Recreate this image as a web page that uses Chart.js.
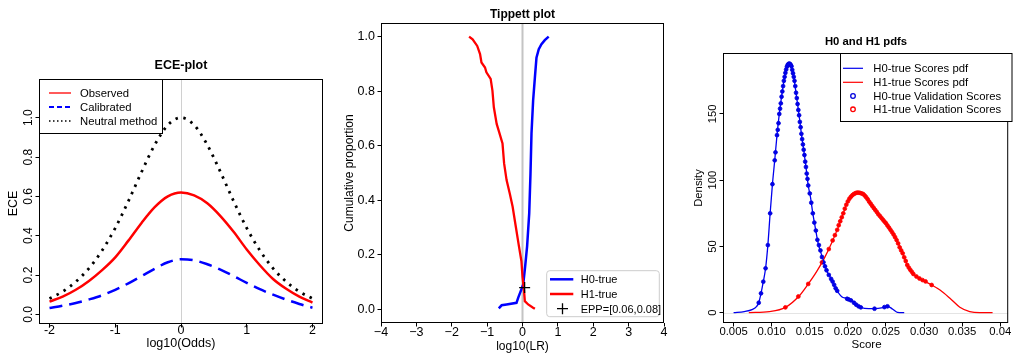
<!DOCTYPE html>
<html><head><meta charset="utf-8">
<script src="https://cdn.jsdelivr.net/npm/chart.js@4/dist/chart.umd.min.js"></script>
<style>
html,body{margin:0;padding:0;background:#fff;width:1013px;height:355px;overflow:hidden;}
.p{position:absolute;top:0;height:355px;}
canvas{display:block;}
</style></head><body>
<div class="p" style="left:0;width:340px"><canvas id="c1" width="340" height="355"></canvas></div>
<div class="p" style="left:340px;width:340px"><canvas id="c2" width="340" height="355"></canvas></div>
<div class="p" style="left:680px;width:333px"><canvas id="c3" width="333" height="355"></canvas></div>
<script>
// ---------- Panel 1: ECE plot ----------
const eceX = [-2,-1.8,-1.6,-1.4,-1.2,-1,-0.8,-0.6,-0.4,-0.2,0,0.2,0.4,0.6,0.8,1,1.2,1.4,1.6,1.8,2];
const eceObserved = [0.065,0.09,0.125,0.17,0.225,0.29,0.375,0.465,0.545,0.6,0.62,0.605,0.565,0.5,0.42,0.33,0.25,0.18,0.13,0.09,0.06];
const eceCalibrated = [0.032,0.044,0.058,0.076,0.097,0.125,0.158,0.195,0.232,0.265,0.28,0.275,0.255,0.228,0.195,0.16,0.128,0.1,0.075,0.053,0.034];
const eceNeutral = [0.080,0.116,0.166,0.234,0.325,0.439,0.576,0.724,0.862,0.963,1.0,0.963,0.862,0.724,0.576,0.439,0.325,0.234,0.166,0.116,0.080];
const eceXTicks = [-2,-1,0,1,2];
const eceXTickLabels = ['-2','-1','0','1','2'];
const eceYTicks = [0,0.2,0.4,0.6,0.8,1.0];
const eceYTickLabels = ['0.0','0.2','0.4','0.6','0.8','1.0'];

// ---------- Panel 2: Tippett plot ----------
const tipH0X = [-0.67,-0.59,-0.45,-0.17,-0.12,-0.05,0.02,0.075,0.13,0.19,0.226,0.254,0.30,0.35,0.395,0.46,0.536,0.63,0.74];
const tipH0Y = [0.004,0.015,0.018,0.024,0.043,0.067,0.091,0.158,0.231,0.352,0.498,0.644,0.765,0.85,0.923,0.954,0.972,0.987,1.0];
const tipH1X = [-1.51,-1.41,-1.28,-1.20,-1.16,-1.06,-1.02,-0.90,-0.85,-0.81,-0.73,-0.66,-0.565,-0.52,-0.45,-0.36,-0.28,-0.19,-0.10,-0.03,0.0,0.04,0.066,0.16,0.30,0.35];
const tipH1Y = [1.0,0.99,0.966,0.936,0.905,0.887,0.869,0.845,0.802,0.741,0.68,0.65,0.608,0.535,0.474,0.425,0.377,0.304,0.231,0.176,0.12,0.073,0.03,0.018,0.006,0.002];
const eppX = [0.06];
const eppY = [0.08];
const tipXTicks = [-4,-3,-2,-1,0,1,2,3,4];
const tipXTickLabels = ['\u22124','\u22123','\u22122','\u22121','0','1','2','3','4'];
const tipYTicks = [0,0.2,0.4,0.6,0.8,1.0];
const tipYTickLabels = ['0.0','0.2','0.4','0.6','0.8','1.0'];

// ---------- Panel 3: H0 and H1 pdfs ----------
const h0PdfX = [0.0050,0.0064,0.0075,0.0080,0.0083,0.0086,0.0089,0.0092,0.0095,0.0098,0.0101,0.0104,0.0107,0.0110,0.0114,0.0117,0.0120,0.0123,0.0126,0.0129,0.0132,0.0136,0.0139,0.0142,0.0145,0.0148,0.0151,0.0154,0.0157,0.0161,0.0167,0.0172,0.0179,0.0184,0.0192,0.0198,0.0205,0.0213,0.0222,0.0235,0.0246,0.0252,0.0259,0.0265,0.0274];
const h0PdfY = [0,0.8,2.5,4.5,7.5,14.6,23.4,33.5,51,75,97,115,134,150,167,178,185.7,188,186,178,165.6,149,135,123,110,96,87,75,65,52.4,41,32,24.7,18.4,12,10.8,9.2,5,3.3,3,3.8,4.8,2.6,0.3,0];
const h1PdfX = [0.0070,0.0097,0.0118,0.0136,0.0148,0.0159,0.0169,0.0179,0.0187,0.0194,0.0199,0.0205,0.0213,0.0220,0.0228,0.0239,0.0250,0.0259,0.0265,0.0272,0.0278,0.0287,0.0297,0.0310,0.0321,0.0334,0.0347,0.0360,0.0373,0.0390];
const h1PdfY = [0,0.8,4,12.6,21.7,31,41,53,64,75,83,88,90.6,89.6,83.8,75,67.5,60,53.6,44.8,36,28.5,24.7,20.9,17.1,10.9,4.1,0.8,0,0];
const h0ValX = [0.0083,0.0086,0.0089,0.0092,0.0095,0.0098,0.0101,0.0104,0.0105,0.0107,0.0108,0.0109,0.0110,0.0111,0.0112,0.0113,0.0114,0.0115,0.0116,0.0117,0.0118,0.0119,0.0120,0.0121,0.0122,0.0123,0.0124,0.0125,0.0126,0.0127,0.0128,0.0129,0.0130,0.0131,0.0132,0.0133,0.0134,0.0135,0.0136,0.0137,0.0138,0.0139,0.0140,0.0141,0.0142,0.0143,0.0144,0.0145,0.0146,0.0147,0.0148,0.0150,0.0152,0.0154,0.0156,0.0158,0.0160,0.0162,0.0164,0.0166,0.0168,0.0170,0.0172,0.0175,0.0178,0.0180,0.0182,0.0184,0.0186,0.0199,0.0201,0.0204,0.0208,0.0211,0.0214,0.0217,0.0235,0.0248,0.0252];
const h0ValY = [7.5,14.6,23.4,33.5,51,75,97,115,121,134,138,143,150,154,158,163,167,171,175,178,181,183.5,185.7,187,187.7,188,187.8,187,186,183.3,180.7,178,175,171,166,162,157.5,153,149,144,140,135,131,127,123,119,114,110,105,101,96,90,83,75,68,62,55,51,47,42,38,35,32,28.5,25.5,23.5,21,18.4,16.5,10.5,10,9.3,7.5,6,4.8,4,3,4.2,4.8];
const h1ValX = [0.0118,0.0135,0.0148,0.0166,0.0175,0.0180,0.0183,0.0186,0.0188,0.0190,0.0192,0.0194,0.0196,0.0198,0.0200,0.0202,0.0204,0.0206,0.0208,0.0210,0.0212,0.0214,0.0216,0.0218,0.0220,0.0222,0.0224,0.0226,0.0228,0.0230,0.0232,0.0234,0.0236,0.0238,0.0240,0.0242,0.0244,0.0246,0.0248,0.0250,0.0252,0.0254,0.0256,0.0258,0.0260,0.0262,0.0264,0.0266,0.0268,0.0270,0.0272,0.0274,0.0276,0.0278,0.0280,0.0282,0.0284,0.0286,0.0290,0.0294,0.0298,0.0302,0.0310];
const h1ValY = [4,12.2,21.7,38,48,54.5,58.5,62.5,66,69,72,75,78.5,81.5,84,86,87.5,88.7,89.6,90.2,90.6,90.6,90.4,90,89.6,88.5,87.2,85.6,83.8,82.2,80.6,79,77.5,76,74.3,73,71.6,70.2,68.8,67.5,65.8,64.2,62.5,60.8,59,57,54.8,52.3,49.3,47,44.8,41.8,39,36,34,32.3,30.8,29.2,27.3,25.8,24.6,23.6,20.9];
const pdfXTicks = [0.005,0.010,0.015,0.020,0.025,0.030,0.035,0.040];
const pdfXTickLabels = ['0.005','0.010','0.015','0.020','0.025','0.030','0.035','0.04'];
const pdfYTicks = [0,50,100,150];
const pdfYTickLabels = ['0','50','100','150'];

// ---------- helpers ----------
const FF = "'Liberation Sans', Arial, Helvetica, sans-serif";
Chart.defaults.font.family = FF;
Chart.defaults.color = '#000';
function fnt(sz, bold){ return (bold ? 'bold ' : '') + sz + 'px ' + FF; }
function pts(xs, ys){ return xs.map((x,i)=>({x:x, y:ys[i]})); }
function rotText(ctx, s, x, y, f){ ctx.save(); ctx.translate(x,y); ctx.rotate(-Math.PI/2); ctx.font=f; ctx.textAlign='center'; ctx.textBaseline='alphabetic'; ctx.fillStyle='#000'; ctx.fillText(s,0,0); ctx.restore(); }
function hText(ctx, s, x, y, f, align){ ctx.save(); ctx.font=f; ctx.textAlign=align||'center'; ctx.textBaseline='alphabetic'; ctx.fillStyle='#000'; ctx.fillText(s,x,y); ctx.restore(); }
function box(ctx, a, lw){ ctx.save(); ctx.strokeStyle='#000'; ctx.lineWidth=lw||1; ctx.strokeRect(a.left+0.5, a.top+0.5, a.right-a.left-1, a.bottom-a.top-1); ctx.restore(); }
function axisCfg(min, max, ticks, labels, fitSize, horiz, showLabels, fsize, pad){
  return {
    type:'linear', min:min, max:max,
    afterBuildTicks: s => { s.ticks = ticks.map(v=>({value:v})); },
    afterFit: s => { if (horiz) s.height = fitSize; else s.width = fitSize; },
    ticks:{ display:showLabels, color:'#000', font:{size:fsize}, padding:pad, maxRotation:0, minRotation:0, autoSkip:false,
            callback:(v,i)=>labels[i] },
    grid:{ drawOnChartArea:false, drawTicks:true, tickLength:3.5, color:'#000', lineWidth:1 },
    border:{ display:false }
  };
}

// ---------- Chart 1 ----------
const plug1 = {
  id:'p1',
  beforeDatasetsDraw(chart){
    const {ctx, chartArea:a, scales:{x}} = chart;
    const px = Math.round(x.getPixelForValue(0)) + 0.5;
    ctx.save(); ctx.strokeStyle='#d0d0d0'; ctx.lineWidth=1;
    ctx.beginPath(); ctx.moveTo(px, a.top); ctx.lineTo(px, a.bottom); ctx.stroke(); ctx.restore();
  },
  afterDraw(chart){
    const {ctx, chartArea:a, scales:{y}} = chart;
    box(ctx, a);
    eceYTicks.forEach((v,i)=>rotText(ctx, eceYTickLabels[i], 31.5, y.getPixelForValue(v), fnt(12)));
    rotText(ctx, 'ECE', 16.5, (a.top+a.bottom)/2 + 2, fnt(12.5));
    hText(ctx, 'log10(Odds)', (a.left+a.right)/2, 347, fnt(12.5));
    hText(ctx, 'ECE-plot', (a.left+a.right)/2, 69, fnt(12.5,true));
    // legend
    ctx.save();
    ctx.fillStyle='#fff'; ctx.fillRect(39.5,79.5,123,54);
    ctx.strokeStyle='#000'; ctx.lineWidth=1; ctx.strokeRect(39.5,79.5,123,54);
    const rows = [
      {ds:1, y:93, w:1.3, dash:[]},
      {ds:2, y:107, w:2.2, dash:[5,3]},
      {ds:0, y:121, w:1.3, dash:[1.5,2.5]}
    ];
    rows.forEach(r=>{
      const d = chart.data.datasets[r.ds];
      ctx.save(); ctx.strokeStyle=d.borderColor; ctx.lineWidth=r.w; ctx.setLineDash(r.dash);
      ctx.beginPath(); ctx.moveTo(49, r.y); ctx.lineTo(71, r.y); ctx.stroke(); ctx.restore();
      hText(ctx, d.label, 80, r.y+4, fnt(11.3), 'left');
    });
    ctx.restore();
  }
};
new Chart(document.getElementById('c1'), {
  type:'scatter',
  data:{ datasets:[
    {label:'Neutral method', data:pts(eceX, eceNeutral), showLine:true, borderColor:'#000', borderWidth:2.8, borderDash:[2.5,5.5], pointRadius:0, cubicInterpolationMode:'monotone'},
    {label:'Observed', data:pts(eceX, eceObserved), showLine:true, borderColor:'#ff0000', borderWidth:2.5, pointRadius:0, cubicInterpolationMode:'monotone'},
    {label:'Calibrated', data:pts(eceX, eceCalibrated), showLine:true, borderColor:'#0000ff', borderWidth:2.5, borderDash:[13,7], pointRadius:0, cubicInterpolationMode:'monotone'}
  ]},
  options:{
    responsive:false, animation:false, events:[],
    layout:{ padding:{ top:79, right:17, left:0, bottom:0 } },
    plugins:{ legend:{display:false}, tooltip:{enabled:false} },
    scales:{
      x: axisCfg(-2.16, 2.16, eceXTicks, eceXTickLabels, 31, true, true, 12.5, -4),
      y: axisCfg(-0.049, 1.197, eceYTicks, eceYTickLabels, 39, false, false, 12, 0)
    }
  },
  plugins:[plug1]
});

// ---------- Chart 2 ----------
const plug2 = {
  id:'p2',
  beforeDatasetsDraw(chart){
    const {ctx, chartArea:a, scales:{x}} = chart;
    const px = x.getPixelForValue(0);
    ctx.save(); ctx.strokeStyle='#c4c4c4'; ctx.lineWidth=2;
    ctx.beginPath(); ctx.moveTo(px, a.top); ctx.lineTo(px, a.bottom); ctx.stroke(); ctx.restore();
  },
  afterDraw(chart){
    const {ctx, chartArea:a} = chart;
    box(ctx, a);
    rotText(ctx, 'Cumulative proportion', 12.5, (a.top+a.bottom)/2, fnt(12));
    hText(ctx, 'log10(LR)', (a.left+a.right)/2, 350, fnt(12));
    hText(ctx, 'Tippett plot', (a.left+a.right)/2, 17.5, fnt(12,true));
    // legend (matplotlib style)
    ctx.save();
    const lx=206.7, ly=270.7, lw=112.6, lh=46, r=3;
    ctx.beginPath();
    ctx.moveTo(lx+r,ly); ctx.lineTo(lx+lw-r,ly); ctx.arcTo(lx+lw,ly,lx+lw,ly+r,r);
    ctx.lineTo(lx+lw,ly+lh-r); ctx.arcTo(lx+lw,ly+lh,lx+lw-r,ly+lh,r);
    ctx.lineTo(lx+r,ly+lh); ctx.arcTo(lx,ly+lh,lx,ly+lh-r,r);
    ctx.lineTo(lx,ly+r); ctx.arcTo(lx,ly,lx+r,ly,r); ctx.closePath();
    ctx.fillStyle='rgba(255,255,255,0.85)'; ctx.fill();
    ctx.strokeStyle='#cccccc'; ctx.lineWidth=1; ctx.stroke();
    const ds = chart.data.datasets;
    const rows = [{d:ds[2], y:279.3}, {d:ds[1], y:294}, {d:ds[0], y:308.7}];
    rows.forEach((row,i)=>{
      ctx.save();
      if (i < 2) {
        ctx.strokeStyle=row.d.borderColor; ctx.lineWidth=2.5;
        ctx.beginPath(); ctx.moveTo(210, row.y); ctx.lineTo(233.3, row.y); ctx.stroke();
      } else {
        ctx.strokeStyle='#000'; ctx.lineWidth=1.3;
        ctx.beginPath(); ctx.moveTo(217, row.y); ctx.lineTo(228, row.y);
        ctx.moveTo(222.5, row.y-5.5); ctx.lineTo(222.5, row.y+5.5); ctx.stroke();
      }
      ctx.restore();
      hText(ctx, row.d.label, 240.7, row.y+4, fnt(11), 'left');
    });
    ctx.restore();
  }
};
new Chart(document.getElementById('c2'), {
  type:'scatter',
  data:{ datasets:[
    {label:'EPP=[0.06,0.08]', data:pts(eppX, eppY), pointStyle:'cross', pointRadius:5.5, pointBorderWidth:1.3, pointBorderColor:'#000', borderColor:'#000', pointBackgroundColor:'#000'},
    {label:'H1-true', data:pts(tipH1X, tipH1Y), showLine:true, borderColor:'#ff0000', borderWidth:2.3, pointRadius:0, tension:0},
    {label:'H0-true', data:pts(tipH0X, tipH0Y), showLine:true, borderColor:'#0000ff', borderWidth:2.5, pointRadius:0, tension:0}
  ]},
  options:{
    responsive:false, animation:false, events:[],
    layout:{ padding:{ top:23, right:16, left:0, bottom:0 } },
    plugins:{ legend:{display:false}, tooltip:{enabled:false} },
    scales:{
      x: axisCfg(-4, 4, tipXTicks, tipXTickLabels, 32, true, true, 12.5, -1.8),
      y: axisCfg(-0.05, 1.05, tipYTicks, tipYTickLabels, 41, false, true, 12.5, 2.5)
    }
  },
  plugins:[plug2]
});

// ---------- Chart 3 ----------
const plug3 = {
  id:'p3',
  beforeDatasetsDraw(chart){
    const {ctx, chartArea:a, scales:{y}} = chart;
    const py = Math.round(y.getPixelForValue(0)) + 0.5;
    ctx.save(); ctx.strokeStyle='#e4e4e4'; ctx.lineWidth=1;
    ctx.beginPath(); ctx.moveTo(a.left, py); ctx.lineTo(a.right, py); ctx.stroke(); ctx.restore();
  },
  afterDraw(chart){
    const {ctx, chartArea:a, scales:{y}} = chart;
    box(ctx, a);
    pdfYTicks.forEach((v,i)=>rotText(ctx, pdfYTickLabels[i], 36, y.getPixelForValue(v), fnt(11.3)));
    rotText(ctx, 'Density', 22, (a.top+a.bottom)/2, fnt(11.3));
    hText(ctx, 'Score', 186.5, 348, fnt(11.5));
    hText(ctx, 'H0 and H1 pdfs', 186, 44.5, fnt(11.3,true));
    // legend
    ctx.save();
    ctx.fillStyle='#fff'; ctx.fillRect(160.5,53.5,171.5,68);
    ctx.strokeStyle='#000'; ctx.lineWidth=1; ctx.strokeRect(160.5,53.5,171.5,68);
    const ds = chart.data.datasets;
    const rows = [{d:ds[0], y:68.3, line:true}, {d:ds[1], y:82.3, line:true}, {d:ds[2], y:96, line:false}, {d:ds[3], y:109.3, line:false}];
    rows.forEach(row=>{
      ctx.save();
      if (row.line) {
        ctx.strokeStyle=row.d.borderColor; ctx.lineWidth=1.2;
        ctx.beginPath(); ctx.moveTo(163, row.y); ctx.lineTo(183, row.y); ctx.stroke();
      } else {
        ctx.strokeStyle=row.d.pointBorderColor; ctx.lineWidth=1.3;
        ctx.beginPath(); ctx.arc(173, row.y, 2.3, 0, Math.PI*2); ctx.stroke();
      }
      ctx.restore();
      hText(ctx, row.d.label, 193.3, row.y+4, fnt(11.3), 'left');
    });
    ctx.restore();
  }
};
new Chart(document.getElementById('c3'), {
  type:'scatter',
  data:{ datasets:[
    {label:'H0-true Scores pdf', data:pts(h0PdfX, h0PdfY), showLine:true, borderColor:'#0000ee', borderWidth:1.3, pointRadius:0, cubicInterpolationMode:'monotone'},
    {label:'H1-true Scores pdf', data:pts(h1PdfX, h1PdfY), showLine:true, borderColor:'#ff0000', borderWidth:1.3, pointRadius:0, cubicInterpolationMode:'monotone'},
    {label:'H0-true Validation Scores', data:pts(h0ValX, h0ValY), showLine:false, pointRadius:1.9, pointBorderWidth:0.8, pointBorderColor:'#0000dd', pointBackgroundColor:'#0000dd'},
    {label:'H1-true Validation Scores', data:pts(h1ValX, h1ValY), showLine:false, pointRadius:1.9, pointBorderWidth:0.8, pointBorderColor:'#ff0000', pointBackgroundColor:'#ff0000'}
  ]},
  options:{
    responsive:false, animation:false, events:[],
    layout:{ padding:{ top:53, right:1, left:0, bottom:0 } },
    plugins:{ legend:{display:false}, tooltip:{enabled:false} },
    scales:{
      x: axisCfg(0.00361, 0.04105, pdfXTicks, pdfXTickLabels, 32, true, true, 11.3, -1.2),
      y: axisCfg(-7.8, 196, pdfYTicks, pdfYTickLabels, 43, false, false, 11.3, 0)
    }
  },
  plugins:[plug3]
});
</script>
</body></html>
